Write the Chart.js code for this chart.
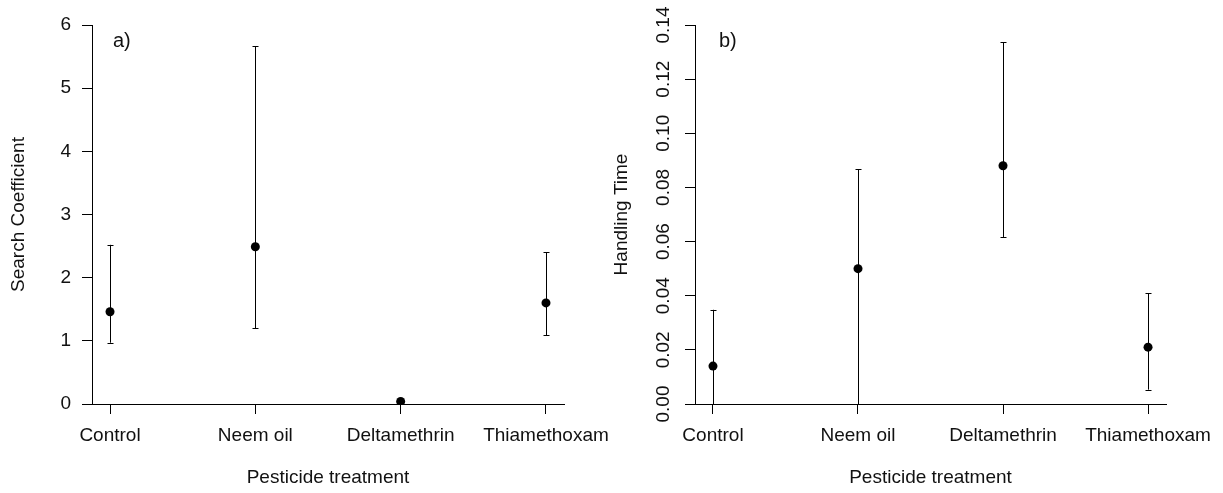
<!DOCTYPE html>
<html>
<head>
<meta charset="utf-8">
<title>Search coefficient and handling time</title>
<script src="https://cdn.jsdelivr.net/npm/chart.js@4.4.1/dist/chart.umd.min.js"></script>
<style>
  body { margin: 0; background: #fff; }
  #wrap { position: relative; width: 1223px; height: 493px; }
  #wrap canvas { position: absolute; top: 0; }
</style>
</head>
<body>
<div id="wrap">
  <canvas id="searchChart" width="640" height="493" style="left:0px"></canvas>
  <canvas id="handlingChart" width="620" height="493" style="left:603px"></canvas>
</div>
<script>
// data
const categories = ["Control", "Neem oil", "Deltamethrin", "Thiamethoxam"];

const searchMean  = [1.46, 2.49, 0.04, 1.60];
const searchLower = [0.97, 1.20, 0.04, 1.09];
const searchUpper = [2.52, 5.66, 0.04, 2.40];
const searchTicks = [0, 1, 2, 3, 4, 5, 6];

const handlingMean  = [0.014, 0.050, 0.088, 0.021];
const handlingLower = [0.000, 0.000, 0.0617, 0.0053];
const handlingUpper = [0.0348, 0.0868, 0.1337, 0.0410];
const handlingTicks = [0, 0.02, 0.04, 0.06, 0.08, 0.10, 0.12, 0.14];

const FONT = "'Liberation Sans', Arial, sans-serif";
const INK = "#000";
const TEXT = "#111";

// whiskers with small caps, drawn behind the points
const errorBars = {
  id: "errorBars",
  beforeDatasetsDraw(chart, args, opts) {
    const ctx = chart.ctx;
    const xs = chart.scales.x, ys = chart.scales.y;
    const area = chart.chartArea;
    ctx.save();
    ctx.beginPath();
    ctx.rect(area.left, area.top - 2, area.right - area.left, area.bottom - area.top + 2);
    ctx.clip();
    ctx.strokeStyle = INK;
    ctx.lineWidth = 1;
    opts.lower.forEach((lo, i) => {
      let hi = opts.upper[i];
      if (lo === hi) return;
      let x = Math.round(xs.getPixelForValue(i + 1)) + 0.5;
      let y1 = ys.getPixelForValue(lo);
      let y2 = ys.getPixelForValue(hi);
      ctx.beginPath();
      ctx.moveTo(x, y1);
      ctx.lineTo(x, y2);
      ctx.moveTo(x - 3, Math.round(y2) + 0.5);
      ctx.lineTo(x + 3, Math.round(y2) + 0.5);
      ctx.moveTo(x - 3, Math.round(y1) + 0.5);
      ctx.lineTo(x + 3, Math.round(y1) + 0.5);
      ctx.stroke();
    });
    ctx.restore();
  }
};

// panel letter and (for panel b) the upright tick labels
const panelText = {
  id: "panelText",
  afterDraw(chart, args, opts) {
    const ctx = chart.ctx;
    ctx.save();
    ctx.fillStyle = TEXT;
    ctx.font = "20px " + FONT;
    ctx.textAlign = "left";
    ctx.textBaseline = "middle";
    ctx.fillText(opts.letter, opts.letterX, 41.5);
    if (opts.rotatedTicks) {
      const ys = chart.scales.y;
      ctx.font = "19px " + FONT;
      ctx.textAlign = "center";
      opts.rotatedTicks.forEach(v => {
        ctx.save();
        ctx.translate(60.5, ys.getPixelForValue(v));
        ctx.rotate(-Math.PI / 2);
        ctx.fillText(v.toFixed(2), 0, 0);
        ctx.restore();
      });
    }
    ctx.restore();
  }
};

function makePanel(canvasId, mean, lower, upper, ticks, yMax, yTitle, letter, letterX, rightPad, rotated) {
  return new Chart(document.getElementById(canvasId), {
    type: "scatter",
    data: {
      datasets: [{
        data: mean.map((v, i) => ({ x: i + 1, y: v })),
        pointRadius: 4.5,
        pointBackgroundColor: INK,
        pointBorderWidth: 0,
        showLine: false
      }]
    },
    options: {
      responsive: false,
      animation: false,
      layout: { padding: { top: 25, right: rightPad, bottom: 0, left: 0 } },
      plugins: {
        legend: { display: false },
        tooltip: { enabled: false },
        errorBars: { lower: lower, upper: upper },
        panelText: { letter: letter, letterX: letterX, rotatedTicks: rotated ? ticks : null }
      },
      scales: {
        x: {
          type: "linear",
          min: 0.876,
          max: 4.124,
          afterBuildTicks: s => { s.ticks = categories.map((c, i) => ({ value: i + 1 })); },
          afterFit: s => { s.height = 89; },
          ticks: {
            callback: v => categories[v - 1],
            autoSkip: false,
            maxRotation: 0,
            minRotation: 0,
            padding: 10,
            color: TEXT,
            font: { family: FONT, size: 19 }
          },
          grid: { drawOnChartArea: false, tickLength: 10, color: INK, lineWidth: 1 },
          border: { display: true, color: INK, width: 1 },
          title: {
            display: true,
            text: "Pesticide treatment",
            color: TEXT,
            font: { family: FONT, size: 19 },
            padding: { top: 0, bottom: 3.6 }
          }
        },
        y: {
          min: 0,
          max: yMax,
          afterBuildTicks: s => { s.ticks = ticks.map(v => ({ value: v })); },
          afterFit: s => { s.width = 92; },
          ticks: {
            display: !rotated,
            callback: v => String(v),
            padding: 11,
            color: TEXT,
            font: { family: FONT, size: 19 }
          },
          grid: { drawOnChartArea: false, tickLength: 10, color: INK, lineWidth: 1 },
          border: { display: true, color: INK, width: 1 },
          title: {
            display: true,
            text: yTitle,
            color: TEXT,
            font: { family: FONT, size: 19 },
            padding: { top: 7.6, bottom: 0 }
          }
        }
      }
    },
    plugins: [errorBars, panelText]
  });
}

makePanel("searchChart", searchMean, searchLower, searchUpper, searchTicks, 6,
  "Search Coefficient", "a)", 113, 76, false);
makePanel("handlingChart", handlingMean, handlingLower, handlingUpper, handlingTicks, 0.14,
  "Handling Time", "b)", 116, 56, true);
</script>
</body>
</html>
